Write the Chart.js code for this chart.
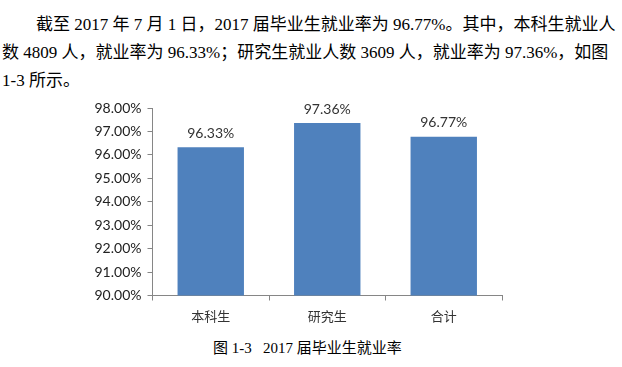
<!DOCTYPE html>
<html>
<head>
<meta charset="utf-8">
<script src="https://cdn.jsdelivr.net/npm/chart.js@4"></script>
<style>
	body { margin: 0; background: #fff; width: 622px; height: 367px; position: relative; overflow: hidden; }
	.para { position: absolute; left: 2px; top: 11px; width: 498px; font-family: "Liberation Serif", "Noto Sans CJK SC", serif; font-size: 17px; line-height: 28px; color: #000; }
	.para div { text-align: justify; text-align-last: justify; white-space: nowrap; }
	.para div.last { text-align-last: left; }
	#chartBox { position: absolute; left: 60px; top: 90px; width: 460px; height: 240px; }
	.caption { position: absolute; left: 213px; top: 336px; font-family: "Liberation Serif", "Noto Sans CJK SC", serif; font-size: 15px; font-weight: normal; color: #000; white-space: pre; }
</style>
</head>
<body>
<div class="para">
	<div style="text-indent: 34px;">截至 2017 年 7 月 1 日，2017 届毕业生就业率为 96.77%。其中，本科生就业人</div>
	<div>数 4809 人，就业率为 96.33%；研究生就业人数 3609 人，就业率为 97.36%，如图</div>
	<div class="last">1-3 所示。</div>
</div>
<div id="chartBox"><canvas id="rateChart"></canvas></div>
<div class="caption">图 1-3   2017 届毕业生就业率</div>
<script>
	const categories = ['本科生', '研究生', '合计'];
	const rates = [96.33, 97.36, 96.77];
	const yTicks = [90, 91, 92, 93, 94, 95, 96, 97, 98];

	// draws the value above each bar
	const barValueLabels = {
		id: 'barValueLabels',
		afterDatasetsDraw(chart) {
			const ctx = chart.ctx;
			const meta = chart.getDatasetMeta(0);
			ctx.save();
			ctx.font = '14px Lato, "Liberation Sans", sans-serif';
			ctx.fillStyle = '#333';
			ctx.textAlign = 'center';
			ctx.textBaseline = 'middle';
			meta.data.forEach((bar, i) => {
				ctx.fillText(rates[i].toFixed(2) + '%', bar.x, bar.y - 14);
			});
			ctx.restore();
		}
	};

	const data = {
		labels: categories,
		datasets: [{
			data: rates,
			backgroundColor: '#4f81bd',
			categoryPercentage: 1,
			barPercentage: 0.57
		}]
	};

	const config = {
		type: 'bar',
		data: data,
		options: {
			responsive: true,
			maintainAspectRatio: false,
			animation: false,
			layout: { padding: { top: 18, right: 18, left: 0, bottom: 0 } },
			plugins: {
				legend: { display: false },
				tooltip: { enabled: false }
			},
			scales: {
				x: {
					grid: { display: true, offset: true, drawOnChartArea: false, drawTicks: true, tickLength: 5, color: '#868686' },
					border: { color: '#868686', width: 1 },
					ticks: { color: '#333', padding: 8, font: { family: '"Noto Sans CJK SC", sans-serif', size: 13 } },
					afterFit(scale) { scale.height = 34.5; }
				},
				y: {
					min: 90,
					max: 98,
					afterBuildTicks(scale) { scale.ticks = yTicks.map(v => ({ value: v })); },
					grid: { display: true, drawOnChartArea: false, drawTicks: true, tickLength: 5, color: '#868686' },
					border: { color: '#868686', width: 1 },
					ticks: {
						color: '#222',
						padding: 6,
						font: { family: 'Lato, "Liberation Sans", sans-serif', size: 14 },
						callback: v => v.toFixed(2) + '%'
					},
					afterFit(scale) { scale.width = 92.5; }
				}
			}
		},
		plugins: [barValueLabels]
	};

	new Chart(document.getElementById('rateChart'), config);
</script>
</body>
</html>
